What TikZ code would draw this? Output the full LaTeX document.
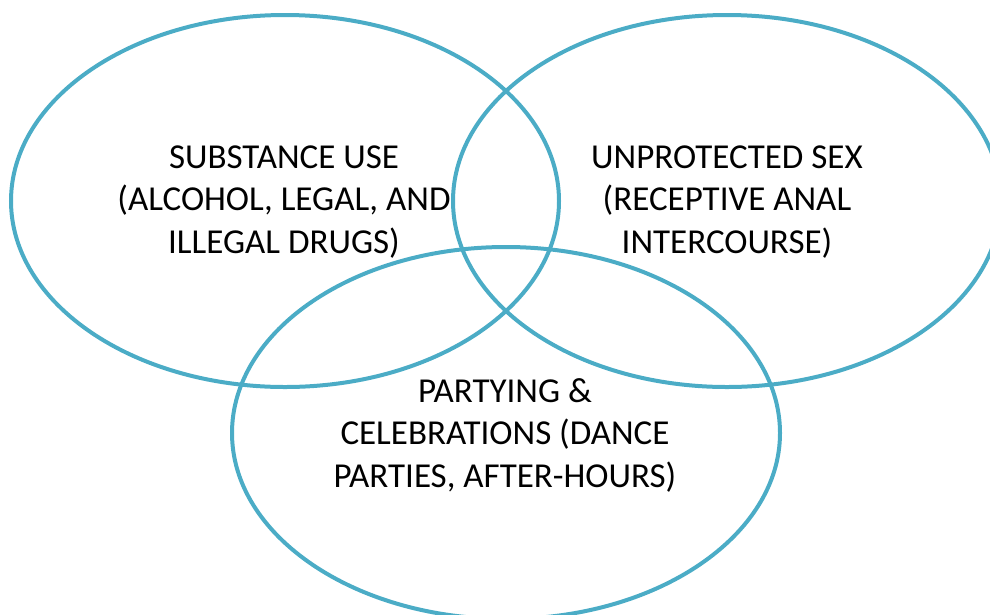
\documentclass[tikz,border=0pt]{standalone}
\usepackage{fontspec}
\setmainfont{Carlito}
\usetikzlibrary{shapes.geometric}
\definecolor{ringblue}{HTML}{4BACC6}

\begin{document}
\begin{tikzpicture}[
    x=1pt, y=-1pt,
    ring/.style={ellipse, draw=ringblue, line width=4pt, inner sep=0pt, minimum width=548pt, minimum height=372pt},
    label/.style={align=center, font=\fontsize{35}{42.5}\selectfont, inner sep=0pt}
]
\useasboundingbox (0,0) rectangle (990,614);
\clip (0,0) rectangle (990,614);

% The three circles
\node[ring] (substance) at (285,201) {};
\node[ring] (sex) at (727,201) {};
\node[ring] (party) at (506,433) {};

% Texts in the circles
\node[label] (substancetext) at (284,202) {SUBSTANCE USE\\(ALCOHOL, LEGAL, AND\\ILLEGAL DRUGS)};
\node[label] (sextext) at (727,202) {UNPROTECTED SEX\\(RECEPTIVE ANAL\\INTERCOURSE)};
\node[label] (partytext) at (505,435) {PARTYING \&\\CELEBRATIONS (DANCE\\PARTIES, AFTER-HOURS)};

\end{tikzpicture}
\end{document}
